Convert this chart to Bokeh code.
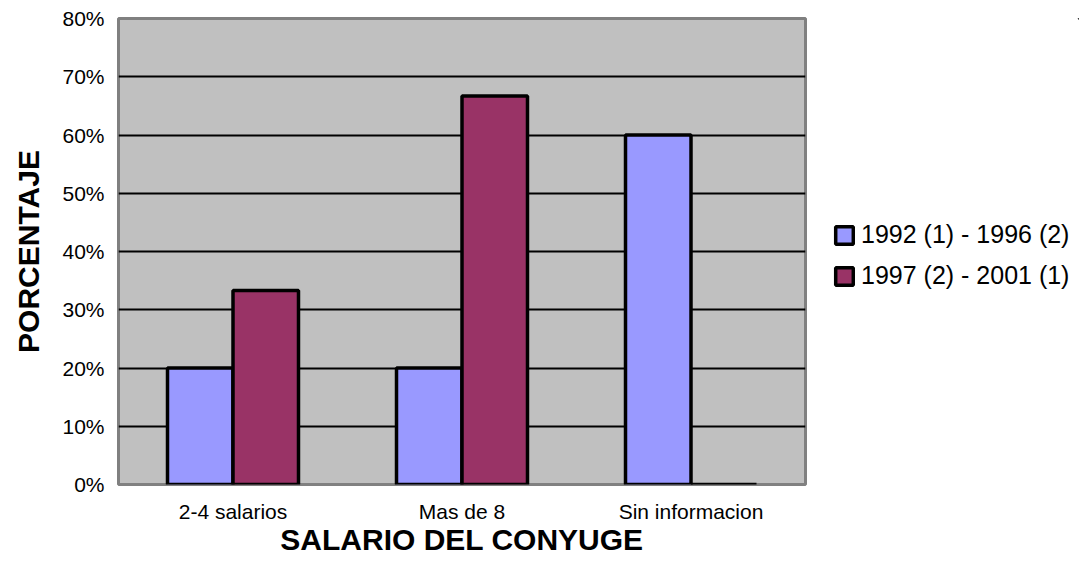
from bokeh.plotting import figure
from bokeh.models import (ColumnDataSource, FactorRange, Legend, LegendItem,
                          NumeralTickFormatter, FixedTicker)
from bokeh.layouts import row
from bokeh.transform import dodge
from bokeh.embed import file_html
from bokeh.resources import INLINE

categories = ["2-4 salarios", "Mas de 8", "Sin informacion"]
series_names = ["1992 (1) - 1996 (2)", "1997 (2) - 2001 (1)"]
values_1992_1996 = [0.20, 0.20, 0.60]
values_1997_2001 = [0.333, 0.667, 0.0]
y_ticks = [0.0, 0.1, 0.2, 0.3, 0.4, 0.5, 0.6, 0.7, 0.8]

colors = ["#9999FF", "#993366"]

src = ColumnDataSource(dict(cat=categories, a=values_1992_1996, b=values_1997_2001))

H = 558
FL, FT, FR, FB = 118, 18, 805, 485
PW = FR + 5
p = figure(x_range=FactorRange(*categories), y_range=(0, 0.8),
           width=PW, height=H, output_backend="svg", toolbar_location=None,
           min_border_left=FL, min_border_right=PW - FR,
           min_border_top=FT, min_border_bottom=H - FB,
           background_fill_color="#C0C0C0", border_fill_color="white",
           outline_line_color="#808080", outline_line_width=3)
p.x_range.range_padding = 0
p.x_range.factor_padding = 0

bw = 0.286
bar_style = dict(line_color="black", line_width=3.5)
r1 = p.vbar(x=dodge("cat", -bw / 2, range=p.x_range), top="a", width=bw, source=src,
            fill_color=colors[0], **bar_style)
r2 = p.vbar(x=dodge("cat", bw / 2, range=p.x_range), top="b", width=bw, source=src,
            fill_color=colors[1], **bar_style)

p.yaxis.ticker = FixedTicker(ticks=y_ticks)
p.yaxis.formatter = NumeralTickFormatter(format="0%")
p.ygrid.ticker = FixedTicker(ticks=y_ticks[1:-1])
p.ygrid.grid_line_color = "black"
p.ygrid.grid_line_width = 2
p.xgrid.grid_line_color = None

for ax in (p.xaxis[0], p.yaxis[0]):
    ax.axis_line_color = None
    ax.major_tick_line_color = None
    ax.minor_tick_line_color = None
    ax.major_tick_out = 0
    ax.major_tick_in = 0
    ax.minor_tick_out = 0
    ax.major_label_text_font = "Liberation Sans"
    ax.major_label_text_font_size = "21px"
    ax.major_label_text_color = "black"
    ax.axis_label_text_font = "Liberation Sans"
    ax.axis_label_text_font_style = "bold"
    ax.axis_label_text_font_size = "30px"
    ax.axis_label_text_color = "black"

p.yaxis.axis_label = "PORCENTAJE"
p.xaxis.axis_label = "SALARIO DEL CONYUGE"
p.yaxis.major_label_standoff = 14
p.xaxis.major_label_standoff = 15
p.yaxis.axis_label_standoff = 14
p.xaxis.axis_label_standoff = -3

# legend panel (swatches use the same styling as the bars)
LW = 1079 - PW
q = figure(width=LW, height=H, x_range=(0, 1), y_range=(0, 1),
           output_backend="svg", toolbar_location=None,
           min_border_left=0, min_border_right=0, min_border_top=0, min_border_bottom=0,
           outline_line_color=None, background_fill_color="white")
q.axis.visible = False
q.grid.visible = False
swatch = ColumnDataSource(dict(x=[50.0], top=[50.0]))
l1 = q.vbar(x="x", top="top", bottom=40.0, width=0.1, source=swatch,
            fill_color=colors[0], **bar_style)
l2 = q.vbar(x="x", top="top", bottom=40.0, width=0.1, source=swatch,
            fill_color=colors[1], **bar_style)

legend = Legend(items=[LegendItem(label=series_names[0], renderers=[l1]),
                       LegendItem(label=series_names[1], renderers=[l2])],
                location=(833 - PW, 194), orientation="vertical",
                glyph_width=22, glyph_height=22, label_height=26,
                label_standoff=6, spacing=12, padding=0, margin=0,
                label_text_font="Liberation Sans", label_text_font_size="25px",
                label_text_color="black",
                border_line_alpha=0, background_fill_alpha=0)
q.add_layout(legend)

layout = row(p, q)
open("out.html", "w").write(file_html(layout, INLINE))
